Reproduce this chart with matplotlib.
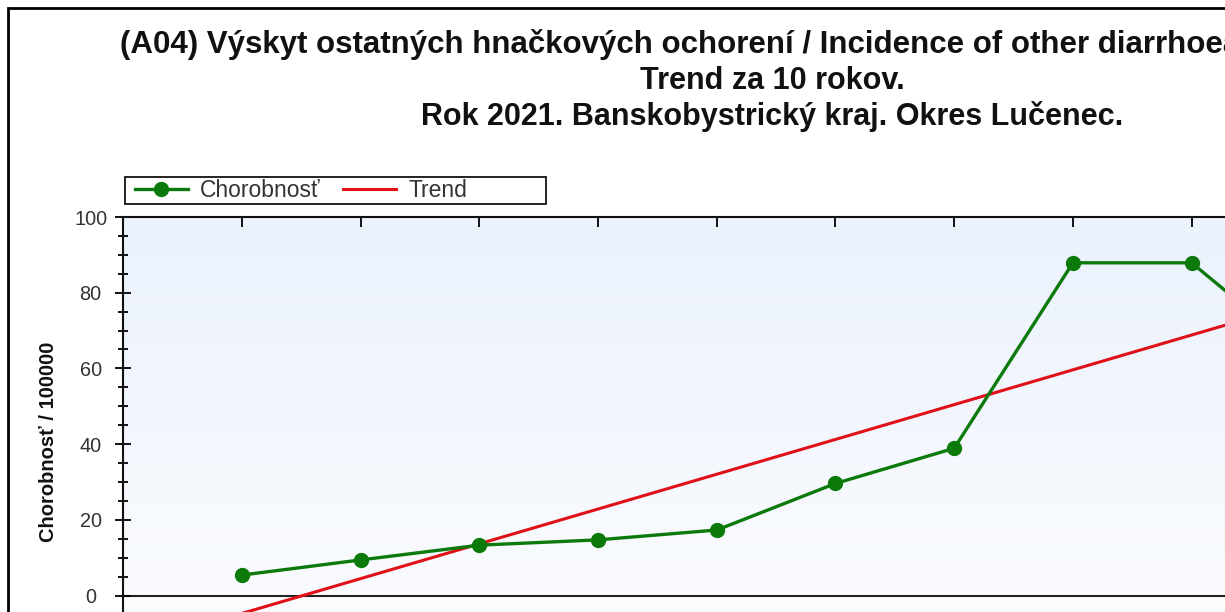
import numpy as np
import matplotlib
matplotlib.use("Agg")
import matplotlib.pyplot as plt
import matplotlib.patches as patches
from matplotlib.ticker import MultipleLocator

# Data
years = [2012, 2013, 2014, 2015, 2016, 2017, 2018, 2019, 2020, 2021]
chorobnost = [5.4, 9.4, 13.3, 14.7, 17.3, 29.6, 38.9, 87.9, 87.9, 62.0]

title_lines = ["(A04) Výskyt ostatných hnačkových ochorení / Incidence of other diarrhoeal diseases",
               "Trend za 10 rokov.",
               "Rok 2021. Banskobystrický kraj. Okres Lučenec."]
ylabel = "Chorobnosť / 100000"
legend_labels = ["Chorobnosť", "Trend"]

plt.rcParams['font.family'] = ['Liberation Sans', 'DejaVu Sans']

W, H = 1225, 612
fig = plt.figure(figsize=(W / 100, H / 100), dpi=100)
fig.patch.set_facecolor('white')

# axes placed in pixels, partly outside the picture (the reference is cropped)
x0, xmin, xmax = 123.3, 2011, 2022
step = 118.7
y_top, y_zero = 217.0, 595.5
ymin, ymax = -10, 100
px_per_unit = (y_zero - y_top) / ymax
ax_w = (xmax - xmin) * step
ax_h = (ymax - ymin) * px_per_unit
ax = fig.add_axes([x0 / W, 1 - (y_top + ax_h) / H, ax_w / W, ax_h / H])
ax.set_xlim(xmin, xmax)
ax.set_ylim(ymin, ymax)

# soft blue gradient in the plot area
grad = np.linspace(0, 1, 256).reshape(-1, 1)
cmap = matplotlib.colors.LinearSegmentedColormap.from_list('bg', ['#fbfcfe', '#ebf2fc'])
ax.imshow(grad, extent=[0, 1, 0, 1], transform=ax.transAxes, cmap=cmap,
          aspect='auto', origin='lower', zorder=0)

ax.axhline(0, color='#222222', lw=1.5, zorder=1)

# trend = linear regression
coef = np.polyfit(years, chorobnost, 1)
trend = np.polyval(coef, years)

ax.plot(years, chorobnost, color='#0b7a0b', lw=2.4, marker='o', markersize=10,
        zorder=4, label=legend_labels[0])
ax.plot(years, trend, color='#e01018', lw=2.2, zorder=3, label=legend_labels[1])

for s in ['right', 'bottom']:
    ax.spines[s].set_visible(False)
for s in ['left', 'top']:
    ax.spines[s].set_color('#111111')
    ax.spines[s].set_linewidth(1.5)

ax.yaxis.set_major_locator(MultipleLocator(20))
ax.yaxis.set_minor_locator(MultipleLocator(5))
ax.tick_params(axis='y', which='major', direction='inout', length=11, width=1.3,
               labelsize=14.3, labelcolor='#333333', pad=18)
ax.tick_params(axis='y', which='minor', direction='inout', length=7, width=1.3)
for lab in ax.get_yticklabels():
    lab.set_horizontalalignment('center')
ax.set_xticks(years)
ax.tick_params(axis='x', which='both', top=True, bottom=False, labeltop=False,
               labelbottom=False, direction='in', length=7, width=1.3)

# title (first line is cut by the right edge, as in the reference)
fig.text(120 / W, 1 - 45 / H, title_lines[0], ha='left', va='center',
         fontsize=22.5, fontweight='bold', color='#111111')
for i, line in enumerate(title_lines[1:], start=1):
    fig.text(772 / W, 1 - (45 + i * 36) / H, line, ha='center', va='center',
             fontsize=22, fontweight='bold', color='#111111')

fig.text(49 / W, 1 - 442 / H, ylabel, rotation=90, ha='center', va='center',
         fontsize=14.5, fontweight='bold', color='#111111')

# legend with a fixed rectangular frame
fig.add_artist(patches.Rectangle((125 / W, 1 - 204 / H), (546 - 125) / W, 27 / H,
                                 transform=fig.transFigure, fill=False,
                                 edgecolor='#111111', lw=1.3))
h, l = ax.get_legend_handles_labels()
fig.legend(h, l, loc='center left', bbox_to_anchor=(135 / W, 1 - 190.5 / H), ncol=2,
           frameon=False, fontsize=16.5, handlelength=2.3, columnspacing=0.97,
           handletextpad=0.55, borderaxespad=0, borderpad=0, labelcolor='#333333')

# outer border of the chart
fig.add_artist(patches.Rectangle((7.5 / W, -0.5), 2, 1.5 - 7.5 / H,
                                 transform=fig.transFigure, fill=False,
                                 edgecolor='black', lw=2))

fig.savefig('out.png', dpi=100)
